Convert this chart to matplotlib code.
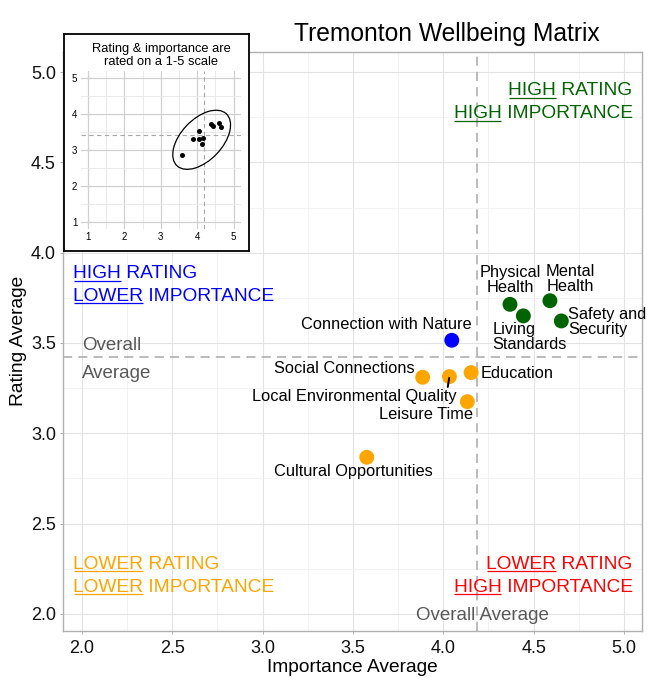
import numpy as np
import matplotlib
matplotlib.use("Agg")
import matplotlib.pyplot as plt
from matplotlib.patches import Ellipse

plt.rcParams["font.family"] = ["Liberation Sans", "DejaVu Sans"]

# ── data ─────────────────────────────────────────────────────
domains = ["Connection with Nature", "Physical\nHealth", "Mental\nHealth",
           "Living\nStandards", "Safety and\nSecurity", "Social Connections",
           "Local Environmental Quality", "Education", "Leisure Time",
           "Cultural Opportunities"]
importance = [4.047, 4.369, 4.590, 4.443, 4.653, 3.886, 4.034, 4.154, 4.133, 3.577]
rating     = [3.515, 3.714, 3.734, 3.650, 3.622, 3.310, 3.314, 3.336, 3.175, 2.867]

main_ticks  = [2.0, 2.5, 3.0, 3.5, 4.0, 4.5, 5.0]
inset_ticks = [1, 2, 3, 4, 5]

title       = "Tremonton Wellbeing Matrix"
inset_title = ["Rating & importance are", "rated on a 1-5 scale"]

# highlight ellipse in the inset (centre x, centre y, semi-axis a, b, angle deg)
ellipse_x0, ellipse_y0 = 4.12, 3.28
ellipse_a, ellipse_b = 0.99, 0.57
ellipse_angle = 47

# quadrant key -> (colour, [(underlined word, rest), ...])
quadrants = {
    "hh": ("#006400", [("HIGH", "RATING"), ("HIGH", "IMPORTANCE")]),
    "hl": ("#0000FF", [("HIGH", "RATING"), ("LOWER", "IMPORTANCE")]),
    "ll": ("#FFA500", [("LOWER", "RATING"), ("LOWER", "IMPORTANCE")]),
    "lh": ("#FF0000", [("LOWER", "RATING"), ("HIGH", "IMPORTANCE")]),
}

# label placement (ha, dx px, dy px down) – mimics the repel layout
label_layout = [
    ("right", 20, -16), ("center", 0, -24), ("center", 20, -22),
    ("left", -31, 21), ("left", 7, 1), ("right", -8, -9),
    ("right", 7, 20), ("left", 10, 1), ("right", 6, 13),
    ("center", -13, 14),
]

imp = np.array(importance)
rat = np.array(rating)
mx, my = imp.mean(), rat.mean()


def quad_of(x, y):
    return ("h" if y >= my else "l") + ("h" if x >= mx else "l")


# ── figure ───────────────────────────────────────────────────
W, H = 650, 700
fig = plt.figure(figsize=(W / 100, H / 100), dpi=100)


def fx(px):
    return px / W


def fy(py):
    return 1 - py / H


ax = fig.add_axes([fx(63.3), fy(630.7), fx(642.3) - fx(63.3), fy(52) - fy(630.7)])
ax.set_xlim(1.898, 5.101)
ax.set_ylim(1.907, 5.111)
ax.set_xticks(main_ticks)
ax.set_yticks(main_ticks)
ax.set_xticklabels([f"{t:.1f}" for t in main_ticks])
ax.set_yticklabels([f"{t:.1f}" for t in main_ticks])
ax.set_xticks([t + 0.25 for t in main_ticks[:-1]], minor=True)
ax.set_yticks([t + 0.25 for t in main_ticks[:-1]], minor=True)
ax.grid(which="major", color="#e3e3e3", lw=0.8)
ax.grid(which="minor", color="#efefef", lw=0.5)
ax.set_axisbelow(True)
for s in ax.spines.values():
    s.set_color("#b0b0b0")
    s.set_linewidth(1.0)
ax.tick_params(which="major", length=2.2, width=0.7, color="#b0b0b0",
               labelsize=13, labelcolor="#111111")
ax.tick_params(axis="x", pad=4.5)
ax.tick_params(axis="y", pad=3.1)
ax.tick_params(which="minor", length=0)

dash = (0, (6, 4))
ax.axvline(mx, color="#a8a8a8", lw=1.1, ls=dash, zorder=1.5)
ax.axhline(my, color="#a8a8a8", lw=1.1, ls=dash, zorder=1.5)

cols = [quadrants[quad_of(x, y)][0] for x, y in zip(imp, rat)]
ax.scatter(imp, rat, s=115, c=cols, linewidths=0, zorder=2)

for name, x, y, (ha, dx, dy) in zip(domains, imp, rat, label_layout):
    ax.annotate(name, (x, y), xytext=(dx * 0.72, -dy * 0.72),
                textcoords="offset points", ha=ha, va="center",
                multialignment="center" if ha == "center" else ha,
                fontsize=11.8, linespacing=1.0, color="black", zorder=4)

# leader segment for Local Environmental Quality
i_leq = 6
ax.annotate("", (imp[i_leq], rat[i_leq]), xytext=(-1.2, -7.5),
            textcoords="offset points",
            arrowprops=dict(arrowstyle="-", color="black", lw=1.4,
                            shrinkA=0, shrinkB=1), zorder=4)

# overall average captions
grey = "#595959"
ax.text(2.0, 3.461, "Overall", fontsize=13.5, color=grey, va="baseline", ha="left")
ax.text(2.0, 3.305, "Average", fontsize=13.5, color=grey, va="baseline", ha="left")
ax.text(mx + 0.03, 1.967, "Overall Average", fontsize=13.5, color=grey,
        va="baseline", ha="center")

# quadrant labels
quad_pos = {"hh": (5.047, "right", 4.873, 4.744),
            "hl": (1.953, "left", 3.860, 3.733),
            "ll": (1.953, "left", 2.250, 2.122),
            "lh": (5.047, "right", 2.250, 2.122)}
QFS = 13.8
quad_texts = []
for key, (color, lines) in quadrants.items():
    x, ha, y1, y2 = quad_pos[key]
    for (word, rest), y in zip(lines, (y1, y2)):
        t = ax.text(x, y, f"{word} {rest}", ha=ha, va="baseline",
                    fontsize=QFS, color=color)
        quad_texts.append((t, word, x, y, color))

# titles / axis labels
fig.text(fx(447), fy(40.7), title, ha="center", va="baseline", fontsize=17.7)
fig.text(fx(352.8), fy(672.5), "Importance Average", ha="center",
         va="baseline", fontsize=13.8)
fig.text(fx(23.5), fy(340.8), "Rating Average", rotation=90,
         rotation_mode="anchor", ha="center", va="baseline", fontsize=13.8)

# ── inset ────────────────────────────────────────────────────
box = fig.add_axes([fx(64), fy(251), fx(249) - fx(64), fy(34) - fy(251)], zorder=5)
box.set_xticks([])
box.set_yticks([])
box.set_facecolor("white")
for s in box.spines.values():
    s.set_color("black")
    s.set_linewidth(1.3)

for line, py in zip(inset_title, (52, 65)):
    fig.text(fx(161), fy(py), line, ha="center", va="baseline",
             fontsize=9.3, zorder=7)

ins = fig.add_axes([fx(80.7), fy(229), fx(241) - fx(80.7), fy(70.7) - fy(229)], zorder=6)
ins.set_xlim(0.8, 5.2)
ins.set_ylim(0.8, 5.2)
ins.set_xticks(inset_ticks)
ins.set_yticks(inset_ticks)
ins.set_xticks([t + 0.5 for t in inset_ticks[:-1]], minor=True)
ins.set_yticks([t + 0.5 for t in inset_ticks[:-1]], minor=True)
ins.grid(which="major", color="#d0d0d0", lw=0.9)
ins.grid(which="minor", color="#e6e6e6", lw=0.6)
ins.set_axisbelow(True)
for s in ins.spines.values():
    s.set_visible(False)
ins.tick_params(which="both", length=0, labelsize=7, pad=2.5)
ins.patch.set_alpha(0)

ins.axvline(mx, color="#a8a8a8", lw=0.8, ls=(0, (4, 3)))
ins.axhline(my, color="#a8a8a8", lw=0.8, ls=(0, (4, 3)))
ins.scatter(imp, rat, s=13, c="black", linewidths=0, zorder=3)
ins.add_patch(Ellipse((ellipse_x0, ellipse_y0), 2 * ellipse_a, 2 * ellipse_b,
                      angle=ellipse_angle, fill=False, ec="black", lw=0.9,
                      zorder=3))

# ── underlines for quadrant keywords ────────────────────────
fig.canvas.draw()
r = fig.canvas.get_renderer()
inv = ax.transData.inverted()
for t, word, x, y, color in quad_texts:
    bb = t.get_window_extent(r)
    tmp = ax.text(0, 0, word, fontsize=QFS)
    w = tmp.get_window_extent(r).width
    tmp.remove()
    yb = ax.transData.transform((x, y))[1] - 2.6
    (x0, y0), (x1, _) = inv.transform([(bb.x0 + 0.5, yb), (bb.x0 + w, yb)])
    ax.plot([x0, x1], [y0, y0], color=color, lw=0.9, solid_capstyle="butt",
            clip_on=False, zorder=4)

fig.savefig("out.png", dpi=100)
